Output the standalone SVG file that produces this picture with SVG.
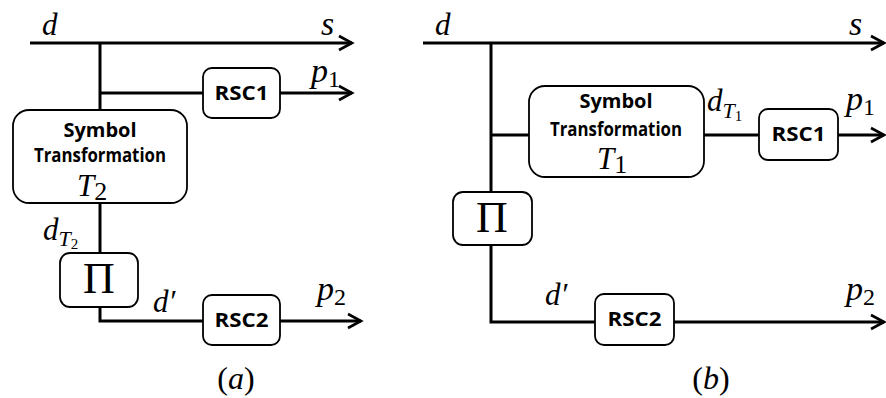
<svg xmlns="http://www.w3.org/2000/svg" width="886" height="398" viewBox="0 0 886 398">
<style>
.ln{fill:none;stroke:#000;stroke-width:3}
.box{fill:#fff;stroke:#000;stroke-width:1.8}
.m{font-family:'Liberation Serif','Times New Roman',serif;font-style:italic;font-size:31px;fill:#000}
.big{font-size:34px}
.r{font-family:'Liberation Serif','Times New Roman',serif;font-style:normal;fill:#000}
.b{font-family:'Open Sans','Liberation Sans',sans-serif;font-weight:bold;fill:#000;text-anchor:middle}
</style>
<defs>
<marker id="ar" markerUnits="userSpaceOnUse" markerWidth="20" markerHeight="20" viewBox="-16 -10 20 20" refX="0" refY="0" orient="auto">
<path d="M-13,-7 L0,0 L-13,7" fill="none" stroke="#000" stroke-width="2.6"/>
</marker>
</defs>
<g id="connectors">
<path class="ln" d="M30,43 H352" marker-end="url(#ar)"/>
<path class="ln" d="M100,43 V110"/>
<path class="ln" d="M100,93 H352" marker-end="url(#ar)"/>
<path class="ln" d="M100,203 V253"/>
<path class="ln" d="M100,307 V321 H361" marker-end="url(#ar)"/>
<path class="ln" d="M423,43 H884" marker-end="url(#ar)"/>
<path class="ln" d="M491,43 V192"/>
<path class="ln" d="M491,135 H529"/>
<path class="ln" d="M704,135 H884" marker-end="url(#ar)"/>
<path class="ln" d="M491,245 V322 H884" marker-end="url(#ar)"/>
</g>
<g id="a-labels">
<text class="m" x="42" y="35">d</text>
<text class="m big" x="321" y="35">s</text>
<text class="m big" x="311" y="82">p<tspan class="r" font-size="24" dy="5">1</tspan></text>
<text class="m" x="43" y="240">d<tspan font-size="22" dy="6">T</tspan><tspan class="r" font-size="15" dy="3">2</tspan></text>
<text class="m" x="153" y="312">d′</text>
<text class="m big" x="317" y="300">p<tspan class="r" font-size="24" dy="5">2</tspan></text>
<text class="r" x="236" y="389" font-size="32" text-anchor="middle">(<tspan font-style="italic">a</tspan>)</text>
</g>
<g id="a-rsc1">
<rect class="box" x="203" y="68" width="77" height="50" rx="9"/>
<text class="b" x="241.5" y="100" font-size="19" textLength="54" lengthAdjust="spacingAndGlyphs">RSC1</text>
</g>
<g id="a-st">
<rect class="box" x="13" y="110" width="174" height="93" rx="16"/>
<text class="b" x="100" y="137" font-size="20">Symbol</text>
<text class="b" x="100" y="162" font-size="20" textLength="132" lengthAdjust="spacingAndGlyphs">Transformation</text>
<text class="m" x="77" y="196" font-size="36">T<tspan class="r" font-size="26" dy="4">2</tspan></text>
</g>
<g id="a-pi">
<rect class="box" x="60" y="253" width="78" height="54" rx="10"/>
<text class="r" x="99" y="293" font-size="44" text-anchor="middle">Π</text>
</g>
<g id="a-rsc2">
<rect class="box" x="203" y="295" width="77" height="50" rx="9"/>
<text class="b" x="241.5" y="327" font-size="19" textLength="54" lengthAdjust="spacingAndGlyphs">RSC2</text>
</g>
<g id="b-labels">
<text class="m" x="435" y="35">d</text>
<text class="m big" x="849" y="35">s</text>
<text class="m" x="707" y="111">d<tspan font-size="22" dy="7">T</tspan><tspan class="r" font-size="15" dy="3">1</tspan></text>
<text class="m big" x="846" y="110">p<tspan class="r" font-size="24" dy="5">1</tspan></text>
<text class="m" x="545" y="305">d′</text>
<text class="m big" x="846" y="300">p<tspan class="r" font-size="24" dy="5">2</tspan></text>
<text class="r" x="711" y="389" font-size="32" text-anchor="middle">(<tspan font-style="italic">b</tspan>)</text>
</g>
<g id="b-st">
<rect class="box" x="529" y="86" width="175" height="91" rx="16"/>
<text class="b" x="616" y="108" font-size="20">Symbol</text>
<text class="b" x="616" y="136" font-size="20" textLength="132" lengthAdjust="spacingAndGlyphs">Transformation</text>
<text class="m" x="597" y="169" font-size="36">T<tspan class="r" font-size="26" dy="4">1</tspan></text>
</g>
<g id="b-rsc1">
<rect class="box" x="759" y="109" width="79" height="51" rx="9"/>
<text class="b" x="798.5" y="141" font-size="19" textLength="54" lengthAdjust="spacingAndGlyphs">RSC1</text>
</g>
<g id="b-pi">
<rect class="box" x="453" y="192" width="79" height="53" rx="10"/>
<text class="r" x="492" y="232" font-size="44" text-anchor="middle">Π</text>
</g>
<g id="b-rsc2">
<rect class="box" x="595" y="294" width="79" height="51" rx="9"/>
<text class="b" x="634.5" y="326" font-size="19" textLength="54" lengthAdjust="spacingAndGlyphs">RSC2</text>
</g>
</svg>
